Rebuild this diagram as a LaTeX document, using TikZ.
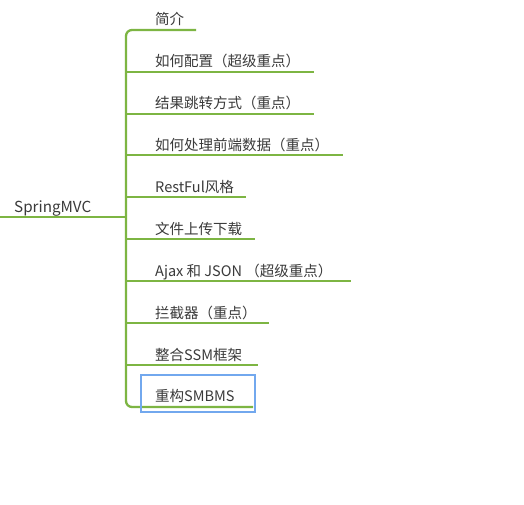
\documentclass[tikz,border=0pt]{standalone}
\usepackage{fontspec}
\setmainfont{Noto Sans CJK SC}
\definecolor{brgreen}{HTML}{7DB543}
\definecolor{txtgray}{HTML}{3A3A3A}
\definecolor{selblue}{HTML}{72A8EE}
\begin{document}
\begin{tikzpicture}[x=1pt,y=-1pt,
  lbl/.style={anchor=base west,inner sep=0pt,font=\fontsize{14.5}{17}\selectfont,text=txtgray},
  branch/.style={draw=brgreen,line width=2.3pt},
  selbox/.style={draw=selblue,line width=1.8pt}]
\useasboundingbox[fill=white] (0,0) rectangle (524,505);
% root
\node[lbl,font=\fontsize{15.2}{17}\selectfont] (root) at (14,212) {SpringMVC};
\coordinate (r0) at (0,217);
\coordinate (r1) at (126,217);
\draw[branch] (r0) -- (r1);
% branch end coordinates and labels
\node[lbl] (t1) at (155,25) {简介};
\coordinate (e1) at (196,30);
\node[lbl] (t2) at (155,67) {如何配置（超级重点）};
\coordinate (e2) at (314,72);
\node[lbl] (t3) at (155,109) {结果跳转方式（重点）};
\coordinate (e3) at (314,114);
\node[lbl] (t4) at (155,150) {如何处理前端数据（重点）};
\coordinate (e4) at (343,155);
\node[lbl] (t5) at (155,192) {RestFul风格};
\coordinate (e5) at (246,197);
\node[lbl] (t6) at (155,234) {文件上传下载};
\coordinate (e6) at (255,239);
\node[lbl] (t7) at (155,276) {Ajax 和 JSON （超级重点）};
\coordinate (e7) at (351,281);
\node[lbl] (t8) at (155,318) {拦截器（重点）};
\coordinate (e8) at (269,323);
\node[lbl] (t9) at (155,360) {整合SSM框架};
\coordinate (e9) at (258,365);
\node[lbl] (t10) at (155,401) {重构SMBMS};
\coordinate (e10) at (253,407);
% spine coordinates
\coordinate (s1) at (126,30);
\coordinate (s10) at (126,407);
\foreach \i/\y in {2/72,3/114,4/155,5/197,6/239,7/281,8/323,9/365}{
  \coordinate (s\i) at (126,\y);
}
\draw[branch,rounded corners=6pt] (e1) -- (s1) -- (s10) -- (e10);
\foreach \i in {2,...,9}{
  \draw[branch] (s\i) -- (e\i);
}
% selection box
\draw[selbox] (141,375) rectangle (255,412);
\end{tikzpicture}
\end{document}
